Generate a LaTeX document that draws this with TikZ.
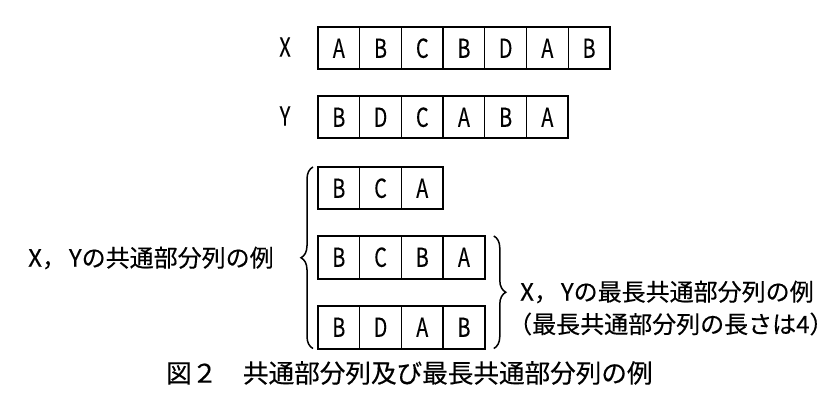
\documentclass[tikz,border=0pt]{standalone}
\usepackage{fontspec}
\setmainfont{Noto Sans CJK JP}
\newfontfamily\jpf[FakeBold=0.3]{Noto Sans CJK JP}
\newfontfamily\latf[FakeStretch=0.76,FakeBold=0.2]{Noto Sans CJK JP}
\usetikzlibrary{decorations.pathreplacing}
\tikzset{
  cellbox/.style={draw, line width=1.3pt, minimum width=41.7pt, minimum height=42.5pt,
    inner sep=0pt, outer sep=0pt, anchor=north west, font=\latf\fontsize{26}{26}\selectfont},
  outerframe/.style={line width=2pt},
  brc/.style={decorate, decoration={brace, amplitude=12pt}, line width=1.5pt},
  lbltxt/.style={inner sep=0pt, font=\latf\fontsize{26}{26}\selectfont},
  jtxt/.style={inner sep=0pt, font=\jpf\fontsize{24}{24}\selectfont},
  captxt/.style={inner sep=0pt, font=\jpf\fontsize{25.6}{25.6}\selectfont}
}
\newcommand\cellrow[3]{%
  \foreach \c [count=\i] in {#3} {
    \node[cellbox] (#1\i) at ({318+41.7*(\i-1)}, #2) {\c};
  }%
}
\begin{document}
\begin{tikzpicture}[x=1pt, y=-1pt]
\useasboundingbox (0,0) rectangle (836,417);
% X and Y
\node[lbltxt] (lx) at (285,47) {X};
\node[lbltxt] (ly) at (285,116) {Y};
\cellrow{X}{27}{A,B,C,B,D,A,B}
\draw[outerframe] (X1.north west) rectangle (X7.south east);
\cellrow{Y}{96}{B,D,C,A,B,A}
\draw[outerframe] (Y1.north west) rectangle (Y6.south east);
% examples
\cellrow{P}{167}{B,C,A}
\draw[outerframe] (P1.north west) rectangle (P3.south east);
\cellrow{Q}{236}{B,C,B,A}
\draw[outerframe] (Q1.north west) rectangle (Q4.south east);
\cellrow{R}{306}{B,D,A,B}
\draw[outerframe] (R1.north west) rectangle (R4.south east);
% braces
\coordinate (lb1) at ([xshift=-5pt]R1.south west);
\coordinate (lb2) at ([xshift=-5pt]P1.north west);
\draw[brc] (lb1) -- (lb2);
\coordinate (rb1) at ([xshift=9pt]Q4.north east);
\coordinate (rb2) at ([xshift=9pt]R4.south east);
\draw[brc] (rb1) -- (rb2);
% labels
\node[jtxt, anchor=west] (lcom) at (28,258) {X，\hspace{3pt}Yの共通部分列の例};
\node[jtxt, anchor=west] (rl1) at (520,292) {X，\hspace{3pt}Yの最長共通部分列の例};
\node[jtxt, anchor=west] (rl2) at (508,324) {（最長共通部分列の長さは4）};
\node[captxt, anchor=west] (capt) at (166,373) {図２　共通部分列及び最長共通部分列の例};
\end{tikzpicture}
\end{document}
